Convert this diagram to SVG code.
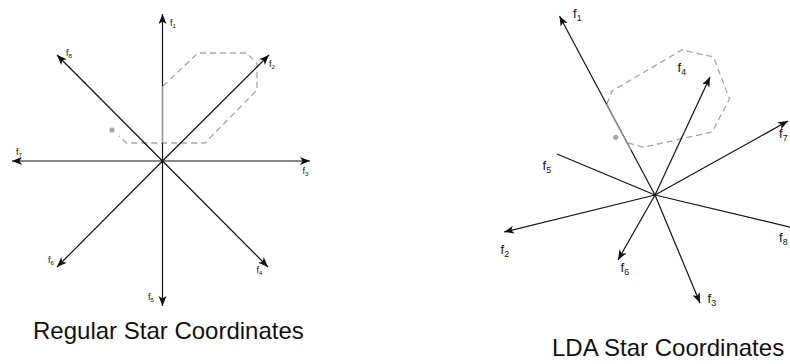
<svg xmlns="http://www.w3.org/2000/svg" width="790" height="364" viewBox="0 0 790 364">
<style>
.ax{stroke:#111;stroke-width:1.2;fill:none}
.axm{marker-end:url(#ah)}
.poly{stroke:#a6a6a6;stroke-width:1.3;fill:none;stroke-dasharray:6 4}
.hl{stroke:#9a9a9a;stroke-width:1.3;fill:none}
.dot{fill:#a6a6a6}
.ls{font-family:"Liberation Sans",Arial,sans-serif;font-size:9px;fill:#111}
.rs{font-family:"Liberation Sans",Arial,sans-serif;font-size:13px;fill:#111}
.sub{font-size:0.68em}
.cap{font-family:"Liberation Sans",Arial,sans-serif;font-size:24px;fill:#111}
</style>
<defs>
<marker id="ah" markerUnits="userSpaceOnUse" markerWidth="12" markerHeight="9" refX="10" refY="4" orient="auto">
<path d="M0,0 L10,4 L0,8 L2.5,4 z" fill="#111"/>
</marker>
</defs>
<g id="regular-star">
<g id="left-polygon">
<path class="poly" d="M163,86 L198,53 L246.5,53 L257,63.5 L257,90 L205,143 L126.5,143 L119,136"/>
<circle class="dot" cx="112" cy="130" r="2.6"/>
</g>
<g id="left-axes">
<line class="ax axm" x1="162.5" y1="161" x2="162.5" y2="14"/>
<line class="ax axm" x1="162.5" y1="161" x2="269" y2="55"/>
<line class="ax axm" x1="162.5" y1="161" x2="310" y2="161"/>
<line class="ax axm" x1="162.5" y1="161" x2="268" y2="267"/>
<line class="ax axm" x1="162.5" y1="161" x2="162.5" y2="306"/>
<line class="ax axm" x1="162.5" y1="161" x2="57" y2="267"/>
<line class="ax axm" x1="162.5" y1="161" x2="12" y2="161"/>
<line class="ax axm" x1="162.5" y1="161" x2="57" y2="55"/>
<line class="hl" x1="162.5" y1="86" x2="162.5" y2="143"/>
</g>
<g id="left-labels">
<text class="ls" x="170" y="26">f<tspan class="sub" dy="2">1</tspan></text>
<text class="ls" x="66" y="56">f<tspan class="sub" dy="2">8</tspan></text>
<text class="ls" x="269" y="67">f<tspan class="sub" dy="2">2</tspan></text>
<text class="ls" x="16" y="155">f<tspan class="sub" dy="2">7</tspan></text>
<text class="ls" x="302.5" y="174">f<tspan class="sub" dy="2">3</tspan></text>
<text class="ls" x="48" y="263">f<tspan class="sub" dy="2">6</tspan></text>
<text class="ls" x="256.5" y="273">f<tspan class="sub" dy="2">4</tspan></text>
<text class="ls" x="148" y="300">f<tspan class="sub" dy="2">5</tspan></text>
</g>
<text id="caption-regular" class="cap" x="33" y="339">Regular Star Coordinates</text>
</g>
<g id="lda-star">
<g id="right-polygon">
<path class="poly" d="M607,104 L612,91 L681.7,50 L713.5,57 L729.5,99 L712,132 L643.3,147.3 L625,142"/>
<circle class="dot" cx="615.7" cy="137.3" r="2.6"/>
</g>
<g id="right-axes">
<line class="ax axm" x1="655" y1="195" x2="559.5" y2="16"/>
<line class="ax axm" x1="655" y1="195" x2="710" y2="77"/>
<line class="ax axm" x1="655" y1="195" x2="788" y2="121"/>
<line class="ax axm" x1="655" y1="195" x2="800" y2="229.4"/>
<line class="ax axm" x1="655" y1="195" x2="700" y2="303"/>
<line class="ax axm" x1="655" y1="195" x2="618" y2="260"/>
<line class="ax axm" x1="655" y1="195" x2="504" y2="232"/>
<line class="ax" x1="655" y1="195" x2="557" y2="154"/>
<line class="hl" x1="606.2" y1="104" x2="630.9" y2="150"/>
</g>
<g id="right-labels">
<text class="rs" x="573" y="18">f<tspan class="sub" dy="3">1</tspan></text>
<text class="rs" x="677.5" y="71.5">f<tspan class="sub" dy="3">4</tspan></text>
<text class="rs" x="779" y="138">f<tspan class="sub" dy="3">7</tspan></text>
<text class="rs" x="779" y="241.5">f<tspan class="sub" dy="3">8</tspan></text>
<text class="rs" x="542.5" y="170">f<tspan class="sub" dy="3">5</tspan></text>
<text class="rs" x="500.5" y="254">f<tspan class="sub" dy="3">2</tspan></text>
<text class="rs" x="620.5" y="271.5">f<tspan class="sub" dy="3">6</tspan></text>
<text class="rs" x="707.5" y="302.5">f<tspan class="sub" dy="3">3</tspan></text>
</g>
<text id="caption-lda" class="cap" x="552" y="356">LDA Star Coordinates</text>
</g>
</svg>
